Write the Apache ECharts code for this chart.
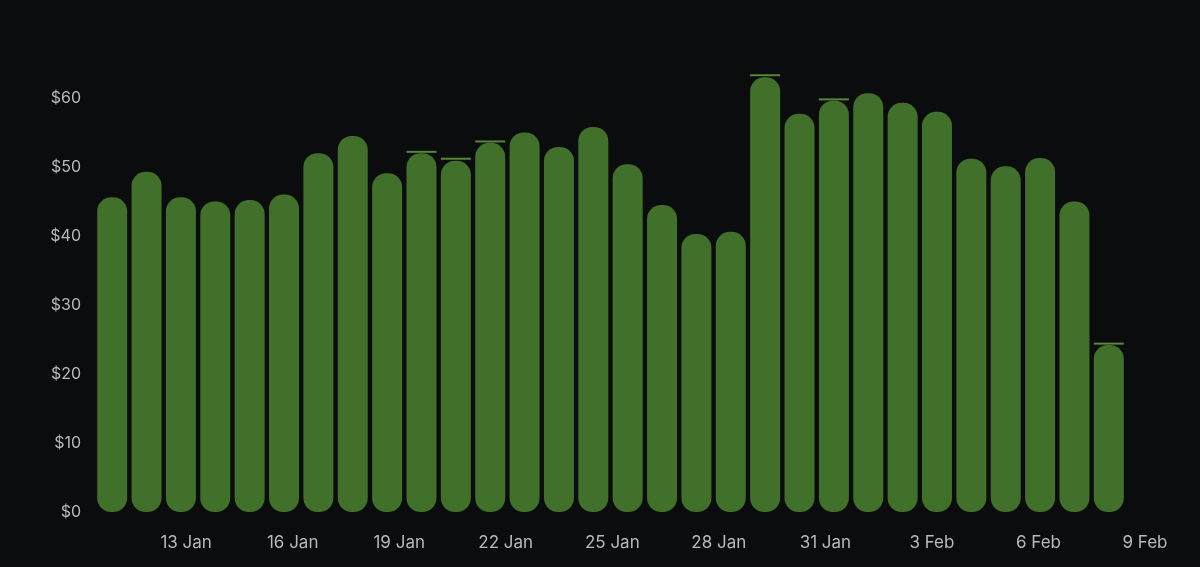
<!DOCTYPE html>
<html>
<head>
<meta charset="utf-8">
<script src="https://cdn.jsdelivr.net/npm/echarts@6/dist/echarts.min.js"></script>
<style>
  html, body { margin: 0; padding: 0; background: #0b0c0e; }
  #chart { width: 1200px; height: 567px; }
</style>
</head>
<body>
<div id="chart"></div>
<script>
// one bar per day, 11 Jan .. 9 Feb
const days = ['11 Jan', '12 Jan', '13 Jan', '14 Jan', '15 Jan', '16 Jan', '17 Jan', '18 Jan', '19 Jan', '20 Jan',
  '21 Jan', '22 Jan', '23 Jan', '24 Jan', '25 Jan', '26 Jan', '27 Jan', '28 Jan', '29 Jan', '30 Jan',
  '31 Jan', '1 Feb', '2 Feb', '3 Feb', '4 Feb', '5 Feb', '6 Feb', '7 Feb', '8 Feb', '9 Feb']
const cost = [45.6, 49.3, 45.6, 45.0, 45.2, 46.0, 52.0, 54.5, 49.1, 52.0,
  50.9, 53.5, 55.0, 52.9, 55.8, 50.4, 44.5, 40.3, 40.6, 63.0,
  57.7, 59.6, 60.7, 59.3, 58.0, 51.2, 50.1, 51.3, 45.0, 24.2]
// thin marks sitting on top of some bars
const marks = [null, null, null, null, null, null, null, null, null, 52.2,
  51.2, 53.7, null, null, null, null, null, null, null, 63.3,
  null, 59.8, null, null, null, null, null, null, null, 24.4]
// time-axis tick labels (day number counted from 1 Jan)
const tickDays = [13, 16, 19, 22, 25, 28, 31, 34, 37, 40]
const tickLabels = ['13 Jan', '16 Jan', '19 Jan', '22 Jan', '25 Jan', '28 Jan', '31 Jan', '3 Feb', '6 Feb', '9 Feb']

const chart = echarts.init(document.getElementById('chart'))

chart.setOption({
  backgroundColor: '#0b0c0e',
  animation: false,
  grid: [
    { left: 95, right: 74, top: 29, bottom: 55 },
    { left: 97, right: 55, top: 29, bottom: 55 }
  ],
  xAxis: [
    {
      type: 'category',
      gridIndex: 0,
      data: days,
      axisLine: { show: false },
      axisTick: { show: false },
      axisLabel: { show: false }
    },
    {
      type: 'value',
      gridIndex: 1,
      min: 10.49,
      max: 40,
      splitLine: { show: false },
      axisLine: { show: false },
      axisTick: { show: false },
      axisLabel: {
        color: '#b8b9c0',
        fontSize: 17,
        fontFamily: 'Inter',
        margin: 22,
        customValues: tickDays,
        formatter: (v) => tickLabels[tickDays.indexOf(v)] || ''
      }
    }
  ],
  yAxis: [
    {
      type: 'value',
      gridIndex: 0,
      min: 0,
      max: 70,
      interval: 10,
      splitLine: { show: false },
      axisLabel: {
        color: '#b8b9c0',
        fontSize: 16,
        fontFamily: 'Inter',
        margin: 14,
        showMaxLabel: false,
        formatter: (v) => '$' + v
      }
    },
    { type: 'value', gridIndex: 1, show: false, min: 0, max: 70 }
  ],
  series: [
    {
      type: 'bar',
      data: cost,
      barWidth: 30,
      itemStyle: { color: '#41702a', borderRadius: 14 }
    },
    {
      type: 'scatter',
      data: marks,
      symbol: 'rect',
      symbolSize: [30, 2],
      itemStyle: { color: '#6ba643' },
      z: 3
    }
  ]
})
</script>
</body>
</html>
